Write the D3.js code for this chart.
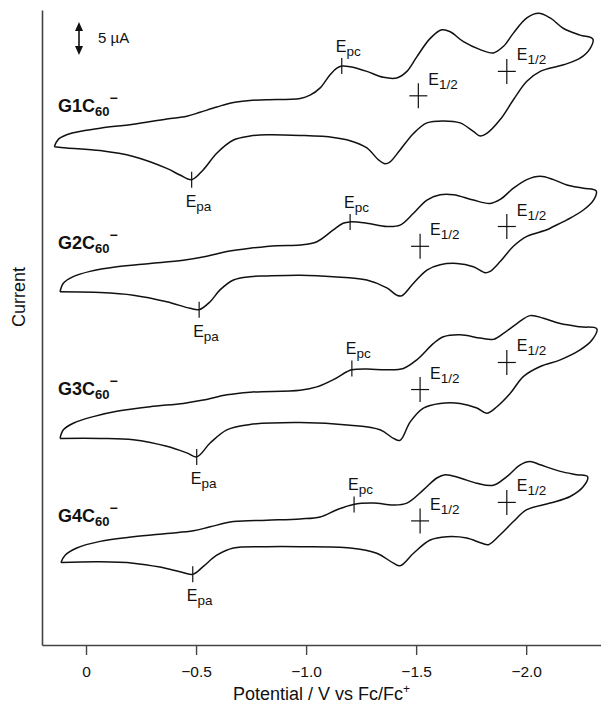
<!DOCTYPE html>
<html>
<head>
<meta charset="utf-8">
<script src="https://cdn.jsdelivr.net/npm/d3@7"></script>
<style>
  body { margin: 0; background: #fff; }
  svg { display: block; font-family: "Liberation Sans", Arial, Helvetica, sans-serif; }
</style>
</head>
<body>
<svg id="chart" width="601" height="703"></svg>
<script>
// ---- data: cyclic voltammograms, [E / V vs Fc/Fc+, I / µA (traces stacked)] ----
const compounds = ["G1", "G2", "G3", "G4"];

// cathodic (forward) sweeps, left to right
const g1Forward = [[0.144,75.5],[0.126,76.6],[0.088,77.3],[0.012,77.9],[-0.064,78.3],[-0.215,78.9],[-0.367,79.7],[-0.458,80.1],[-0.518,80.7],[-0.594,81.5],[-0.670,82.2],[-0.745,82.5],[-0.821,82.6],[-0.973,82.8],[-1.018,83.3],[-1.064,84.4],[-1.109,86.4],[-1.140,87.4],[-1.162,87.7],[-1.200,87.6],[-1.276,86.9],[-1.351,86.0],[-1.412,85.9],[-1.458,86.9],[-1.503,89.1],[-1.564,91.9],[-1.617,93.2],[-1.655,92.9],[-1.715,91.4],[-1.791,90.2],[-1.851,89.7],[-1.897,90.7],[-1.942,92.7],[-2.003,95.0],[-2.056,95.7],[-2.109,95.0],[-2.170,93.4],[-2.245,92.4],[-2.303,91.8]];
const g2Forward = [[0.118,53.5],[0.103,54.8],[0.058,55.8],[-0.018,56.6],[-0.140,57.3],[-0.291,57.8],[-0.442,58.3],[-0.549,58.9],[-0.640,59.6],[-0.745,60.1],[-0.867,60.5],[-0.973,60.6],[-1.049,61.1],[-1.124,62.9],[-1.168,63.9],[-1.200,64.1],[-1.276,63.9],[-1.367,63.4],[-1.427,63.6],[-1.488,65.4],[-1.549,67.4],[-1.609,68.2],[-1.670,68.2],[-1.760,67.4],[-1.836,66.9],[-1.882,67.5],[-1.942,69.2],[-2.003,70.5],[-2.064,71.0],[-2.124,70.5],[-2.185,69.7],[-2.260,69.2],[-2.318,68.8]];
const g3Forward = [[0.118,31.3],[0.103,32.6],[0.058,33.6],[-0.033,34.6],[-0.140,35.4],[-0.291,36.1],[-0.442,36.6],[-0.533,37.1],[-0.640,37.9],[-0.745,38.3],[-0.973,38.6],[-1.049,39.1],[-1.124,40.2],[-1.185,41.4],[-1.208,41.7],[-1.276,41.8],[-1.367,41.7],[-1.442,41.9],[-1.503,43.2],[-1.579,45.7],[-1.624,46.7],[-1.700,47.0],[-1.791,46.5],[-1.851,46.3],[-1.897,47.2],[-1.958,48.7],[-2.018,49.9],[-2.079,49.5],[-2.155,48.7],[-2.245,48.2],[-2.321,47.9]];
const g4Forward = [[0.114,12.5],[0.095,13.6],[0.042,14.7],[-0.064,15.7],[-0.215,16.4],[-0.367,16.9],[-0.488,17.3],[-0.564,17.9],[-0.670,18.7],[-0.821,18.9],[-0.973,19.1],[-1.064,19.4],[-1.140,20.5],[-1.215,21.3],[-1.306,21.5],[-1.397,21.2],[-1.458,21.5],[-1.533,23.5],[-1.594,25.3],[-1.632,25.8],[-1.700,25.3],[-1.776,24.5],[-1.851,24.2],[-1.912,25.5],[-1.973,27.3],[-2.018,27.8],[-2.064,27.3],[-2.155,26.3],[-2.230,25.8],[-2.279,25.5]];

// anodic (reverse) sweeps, right to left
const g1Reverse = [[-2.291,90.4],[-2.245,88.9],[-2.170,87.9],[-2.064,86.9],[-2.003,85.4],[-1.942,82.6],[-1.882,79.6],[-1.821,77.5],[-1.791,77.1],[-1.760,77.8],[-1.700,79.1],[-1.624,79.4],[-1.549,79.1],[-1.488,77.5],[-1.427,75.0],[-1.382,73.2],[-1.359,72.9],[-1.329,73.5],[-1.276,75.3],[-1.200,76.4],[-1.124,76.9],[-0.973,77.2],[-0.821,77.3],[-0.745,77.1],[-0.670,76.5],[-0.594,74.5],[-0.533,72.0],[-0.480,70.5],[-0.427,71.2],[-0.367,72.2],[-0.215,74.0],[-0.064,74.9],[0.088,75.3],[0.144,75.5]];
const g2Reverse = [[-2.306,67.4],[-2.260,65.9],[-2.185,64.4],[-2.124,63.4],[-2.094,62.9],[-2.003,61.9],[-1.942,60.4],[-1.882,58.1],[-1.836,56.6],[-1.814,56.4],[-1.760,57.3],[-1.685,57.8],[-1.609,57.6],[-1.549,56.8],[-1.488,54.8],[-1.435,52.9],[-1.412,53.0],[-1.367,54.1],[-1.276,55.3],[-1.124,55.8],[-0.973,56.0],[-0.821,55.9],[-0.745,55.8],[-0.670,55.3],[-0.609,53.8],[-0.564,52.0],[-0.514,50.8],[-0.473,51.0],[-0.367,52.0],[-0.215,53.0],[-0.064,53.4],[0.118,53.5]];
const g3Reverse = [[-2.299,46.2],[-2.245,44.7],[-2.155,43.2],[-2.064,42.2],[-1.988,40.7],[-1.927,38.1],[-1.867,36.1],[-1.821,35.1],[-1.776,35.9],[-1.700,36.6],[-1.609,36.6],[-1.533,35.9],[-1.473,33.8],[-1.427,31.0],[-1.397,31.3],[-1.336,32.6],[-1.200,33.3],[-0.973,33.7],[-0.745,33.4],[-0.640,32.6],[-0.564,30.6],[-0.503,28.5],[-0.458,29.1],[-0.367,30.1],[-0.215,31.1],[-0.064,31.3],[0.118,31.3]];
const g4Reverse = [[-2.260,24.0],[-2.200,22.5],[-2.109,21.5],[-2.003,20.5],[-1.942,18.7],[-1.882,16.7],[-1.829,15.2],[-1.799,15.4],[-1.730,16.2],[-1.640,16.4],[-1.564,15.9],[-1.488,13.9],[-1.427,12.0],[-1.397,12.4],[-1.321,13.9],[-1.200,14.7],[-0.973,14.9],[-0.821,14.9],[-0.670,14.7],[-0.594,13.6],[-0.533,11.9],[-0.485,10.7],[-0.427,11.1],[-0.336,11.8],[-0.215,12.4],[-0.064,12.6],[0.114,12.5]];

// characteristic potentials marked on each trace
const epc = [[-1.162,87.7],[-1.200,64.1],[-1.208,41.9],[-1.218,21.3]];
const epa = [[-0.480,70.5],[-0.514,50.8],[-0.503,28.5],[-0.485,10.7]];
const eHalfFirst = [[-1.510,83.2],[-1.518,60.4],[-1.518,38.7],[-1.518,18.8]];
const eHalfSecond = [[-1.912,86.9],[-1.912,63.4],[-1.912,42.8],[-1.912,21.6]];

// axes
const potentialTicks = [0, -0.5, -1.0, -1.5, -2.0];
const potentialDomain = [0.2, -2.34];
const currentDomain = [0, 96.2];
const scaleBarCurrent = 5; // µA

// ---- layout ----
const svg = d3.select("#chart");
const plotLeft = 42, plotRight = 601, plotTop = 10, plotBottom = 645;
const ink = "#111";

const x = d3.scaleLinear().domain(potentialDomain).range([plotLeft, plotRight]);
const y = d3.scaleLinear().domain(currentDomain).range([plotBottom, plotTop]);

// bottom axis
const xAxis = d3.axisBottom(x)
  .tickValues(potentialTicks)
  .tickFormat(d => d === 0 ? "0" : d3.format(".1f")(d))
  .tickSize(10).tickSizeOuter(0).tickPadding(11);
const gx = svg.append("g").attr("transform", `translate(0,${plotBottom})`).call(xAxis);
gx.select(".domain").attr("stroke", "#444").attr("stroke-width", 1.6);
gx.selectAll(".tick line").attr("stroke", "#444").attr("stroke-width", 1.4);
gx.selectAll(".tick text").attr("fill", ink).attr("font-size", 15.5)
  .attr("font-family", "'Liberation Sans', Arial, sans-serif");

// left axis (line only)
const gy = svg.append("g").attr("transform", `translate(${plotLeft},0)`)
  .call(d3.axisLeft(y).tickValues([]).tickSizeOuter(0));
gy.select(".domain").attr("stroke", "#444").attr("stroke-width", 1.6);

// axis titles
const xTitle = svg.append("text")
  .attr("x", (plotLeft + plotRight) / 2).attr("y", 700)
  .attr("text-anchor", "middle").attr("font-size", 18).attr("fill", ink);
xTitle.append("tspan").text("Potential / V vs Fc/Fc");
xTitle.append("tspan").attr("font-size", 12).attr("dy", -7).text("+");

svg.append("text")
  .attr("transform", "translate(25,297) rotate(-90)")
  .attr("text-anchor", "middle").attr("font-size", 18).attr("fill", ink)
  .text("Current");

// traces
const line = d3.line()
  .x(d => x(d[0])).y(d => y(d[1]))
  .curve(d3.curveCatmullRom.alpha(0.5));
const forwards = [g1Forward, g2Forward, g3Forward, g4Forward];
const reverses = [g1Reverse, g2Reverse, g3Reverse, g4Reverse];
svg.append("g").selectAll("path")
  .data(compounds.map((c, i) => forwards[i].concat(reverses[i])))
  .join("path")
  .attr("d", line)
  .attr("fill", "none").attr("stroke", ink)
  .attr("stroke-width", 1.5).attr("stroke-linejoin", "round");

// compound labels
const labelBaselines = [112, 249, 395, 522];
compounds.forEach((c, i) => {
  const t = svg.append("text").attr("x", 58).attr("y", labelBaselines[i])
    .attr("font-weight", "bold").attr("font-size", 18).attr("fill", ink);
  t.append("tspan").text(c + "C");
  t.append("tspan").attr("font-size", 13).attr("dy", 4).text("60");
  t.append("tspan").attr("font-size", 14).attr("dy", -13).text("\u2212");
});

// E with subscript
function eLabel(px, py, sub) {
  const t = svg.append("text").attr("x", px).attr("y", py)
    .attr("font-size", 16).attr("fill", ink);
  t.append("tspan").text("E");
  t.append("tspan").attr("font-size", 13.5).attr("dy", 4).text(sub);
}

const marks = svg.append("g").attr("stroke", ink).attr("stroke-width", 1.2);

// peak potentials: short vertical ticks
epc.forEach(d => {
  const px = x(d[0]), py = y(d[1]);
  marks.append("line").attr("x1", px).attr("x2", px).attr("y1", py - 8).attr("y2", py + 8);
  eLabel(px - 6, py - 14, "pc");
});
epa.forEach(d => {
  const px = x(d[0]), py = y(d[1]);
  marks.append("line").attr("x1", px).attr("x2", px).attr("y1", py - 8).attr("y2", py + 8);
  eLabel(px - 6, py + 27, "pa");
});

// half-wave potentials: crosses
eHalfFirst.concat(eHalfSecond).forEach(d => {
  const px = x(d[0]), py = y(d[1]);
  marks.append("line").attr("x1", px).attr("x2", px).attr("y1", py - 12.5).attr("y2", py + 12.5);
  marks.append("line").attr("x1", px - 9).attr("x2", px + 9).attr("y1", py).attr("y2", py);
  eLabel(px + 10, py - 11, "1/2");
});

// current scale bar with arrowheads at both ends
const barX = 79, barTop = 22;
const barBottom = barTop + (y(0) - y(scaleBarCurrent));
svg.append("line").attr("x1", barX).attr("x2", barX)
  .attr("y1", barTop + 5).attr("y2", barBottom - 5)
  .attr("stroke", ink).attr("stroke-width", 1.6);
svg.append("path")
  .attr("d", `M${barX},${barTop} L${barX - 4},${barTop + 9} L${barX + 4},${barTop + 9} Z` +
             `M${barX},${barBottom} L${barX - 4},${barBottom - 9} L${barX + 4},${barBottom - 9} Z`)
  .attr("fill", ink);
svg.append("text").attr("x", 98).attr("y", 43)
  .attr("font-size", 15).attr("fill", ink).text(`${scaleBarCurrent} \u00b5A`);
</script>
</body>
</html>
